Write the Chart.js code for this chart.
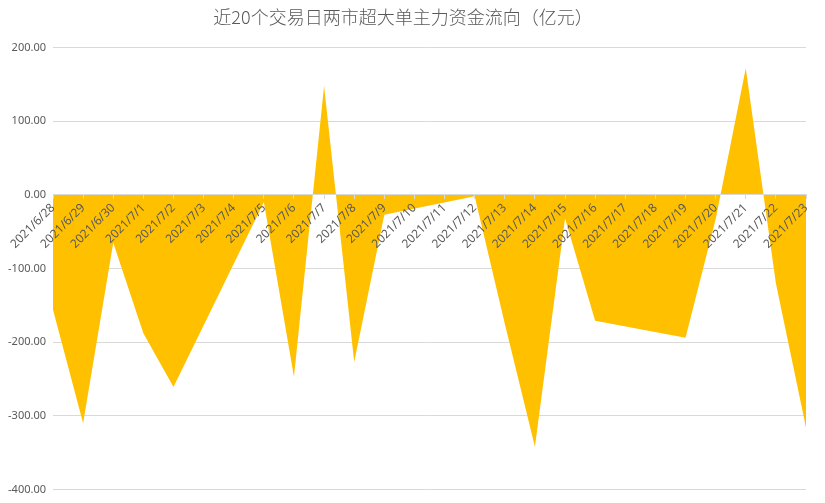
<!DOCTYPE html>
<html>
<head>
<meta charset="utf-8">
<script src="https://cdn.jsdelivr.net/npm/chart.js@4/dist/chart.umd.min.js"></script>
<style>
  html, body { margin: 0; padding: 0; background: #fff; }
  #wrap { width: 825px; height: 503px; }
</style>
</head>
<body>
<div id="wrap"><canvas id="myChart"></canvas></div>
<script>
"use strict";

// calendar days on the date axis (weekends have no trading data)
const dates = [
  "2021/6/28", "2021/6/29", "2021/6/30", "2021/7/1", "2021/7/2", "2021/7/3", "2021/7/4",
  "2021/7/5", "2021/7/6", "2021/7/7", "2021/7/8", "2021/7/9", "2021/7/10", "2021/7/11",
  "2021/7/12", "2021/7/13", "2021/7/14", "2021/7/15", "2021/7/16", "2021/7/17", "2021/7/18",
  "2021/7/19", "2021/7/20", "2021/7/21", "2021/7/22", "2021/7/23"
];

// super-large order net flow, 亿元 (null = no trading)
const flows = [
  -156, -310, -65, -188, -261, null, null,
  -10, -247, 148, -227, -27, null, null,
  -2, -175, -342, -32, -171, null, null,
  -194, -33, 172, -120, -316
];

const yTicks = { min: -400, max: 200, step: 100 };
const chartTitle = "近20个交易日两市超大单主力资金流向（亿元）";

const textColor = "#595959";
const gridColor = "#d9d9d9";

const data1 = {
  labels: dates,
  datasets: [{
    label: "超大单",
    data: flows,
    backgroundColor: "#FFC000",
    borderColor: "#FFC000",
    borderWidth: 0,
    pointRadius: 0,
    tension: 0,
    spanGaps: true,
    fill: "origin",
  }],
};

const config = {
  type: "line",
  data: data1,
  options: {
    responsive: true,
    maintainAspectRatio: false,
    animation: false,
    layout: {
      padding: { left: 0, right: 19, top: 0, bottom: 13 }
    },
    plugins: {
      legend: { display: false },
      tooltip: { enabled: false },
      title: {
        display: true,
        text: chartTitle,
        color: textColor,
        font: { family: "'Noto Sans CJK SC', sans-serif", size: 18, weight: 300 },
        padding: { top: 6, bottom: 20 },
      },
    },
    scales: {
      x: {
        position: { y: 0 },
        offset: false,
        afterFit: (scale) => { scale.height = 0; },
        grid: {
          display: true,
          drawOnChartArea: false,
          drawTicks: true,
          tickLength: 4,
          color: gridColor,
          z: 1,
        },
        border: { display: true, color: gridColor, z: 1 },
        ticks: {
          z: 1,
          autoSkip: false,
          maxRotation: 45,
          minRotation: 45,
          padding: 2,
          color: textColor,
          font: { family: "'Noto Sans', sans-serif", size: 12 },
        },
      },
      y: {
        min: yTicks.min,
        max: yTicks.max,
        afterFit: (scale) => { scale.width = 53; },
        grid: { color: gridColor, drawTicks: false },
        border: { display: false },
        ticks: {
          stepSize: yTicks.step,
          padding: 7,
          color: textColor,
          font: { family: "'Noto Sans', sans-serif", size: 11 },
          callback: (v) => Number(v).toFixed(2),
        },
      },
    },
  },
};

const ctx = document.getElementById("myChart").getContext("2d");
new Chart(ctx, config);
</script>
</body>
</html>
